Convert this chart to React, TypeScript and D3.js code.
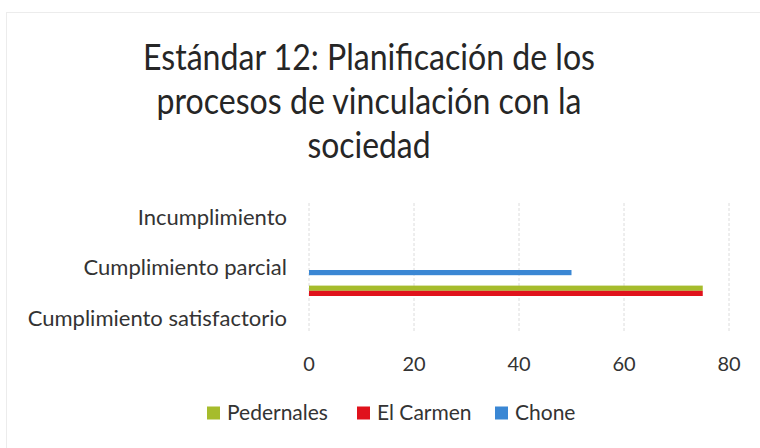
import React from 'react';
import * as d3 from 'd3';

const categories = ['Incumplimiento', 'Cumplimiento parcial', 'Cumplimiento satisfactorio'];
const seriesNames = ['Pedernales', 'El Carmen', 'Chone'];
const pedernales = [0, 75, 0];
const elCarmen = [0, 75, 0];
const chone = [0, 50, 0];
const xTicks = [0, 20, 40, 60, 80];
const titleLines = ['Estándar 12: Planificación de los', 'procesos de vinculación con la', 'sociedad'];
// widths of the title lines as they appear in the picture
const titleWidths = [452, 425, 123];

const colors: Record<string, string> = {
  Pedernales: '#a6bc2c',
  'El Carmen': '#e0121c',
  Chone: '#3a87d4',
};

const width = 760;
const height = 448;
const plotLeft = 309;
const plotRight = 729;
const plotTop = 203;
const plotBottom = 332;
const font = 'Lato, "Open Sans", sans-serif';
const textColor = '#333333';

function App() {
  const x = d3.scaleLinear().domain([0, 80]).range([plotLeft, plotRight]);
  const y = d3
    .scaleBand<string>()
    .domain(categories)
    .range([plotTop - 11, plotBottom + 11]);

  // slots inside a category: Chone on top, then a gap, then the two overlapping bars
  const inner = d3
    .scaleBand<string>()
    .domain(['Chone', 'gap1', 'gap2', 'Pedernales', 'El Carmen'])
    .range([0, 26]);

  const series = [
    { name: 'Pedernales', values: pedernales },
    { name: 'El Carmen', values: elCarmen },
    { name: 'Chone', values: chone },
  ];

  const legendX = d3.scaleOrdinal<string, number>().domain(seriesNames).range([207, 357, 495]);

  return (
    <svg
      width={width}
      height={height}
      style={{ position: 'absolute', left: 0, top: 0, background: '#fff' }}
      fontFamily={font}
    >
      <rect x={6.5} y={12.5} width={800} height={500} fill="none" stroke="#ececec" />

      {titleLines.map((t, i) => (
        <text
          key={t}
          x={369}
          y={70 + i * 44}
          textAnchor="middle"
          fontSize={37}
          fill="#262626"
          textLength={titleWidths[i]}
          lengthAdjust="spacingAndGlyphs"
        >
          {t}
        </text>
      ))}

      {xTicks.map((t) => (
        <g key={t}>
          <line
            x1={x(t)}
            x2={x(t)}
            y1={plotTop}
            y2={plotBottom}
            stroke="#dcdcdc"
            strokeDasharray="3,2"
          />
          <text x={x(t)} y={371} textAnchor="middle" fontSize={20} fill={textColor}>
            {t}
          </text>
        </g>
      ))}

      {categories.map((c) => (
        <text
          key={c}
          x={287}
          y={(y(c) ?? 0) + y.bandwidth() / 2}
          dy="0.35em"
          textAnchor="end"
          fontSize={22}
          fill={textColor}
        >
          {c}
        </text>
      ))}

      {series.map((s) =>
        s.values.map((v, i) =>
          v > 0 ? (
            <rect
              key={s.name + i}
              x={x(0)}
              y={(y(categories[i]) ?? 0) + y.bandwidth() / 2 + 2.5 + (inner(s.name) ?? 0)}
              width={x(v) - x(0)}
              height={inner.bandwidth()}
              fill={colors[s.name]}
            />
          ) : null,
        ),
      )}

      {seriesNames.map((n) => (
        <g key={n} transform={`translate(${legendX(n)},413)`}>
          <rect x={0} y={-6.5} width={13} height={13} fill={colors[n]} />
          <text x={20} y={0} dy="0.35em" fontSize={21} fill={textColor}>
            {n}
          </text>
        </g>
      ))}
    </svg>
  );
}

export default App;
